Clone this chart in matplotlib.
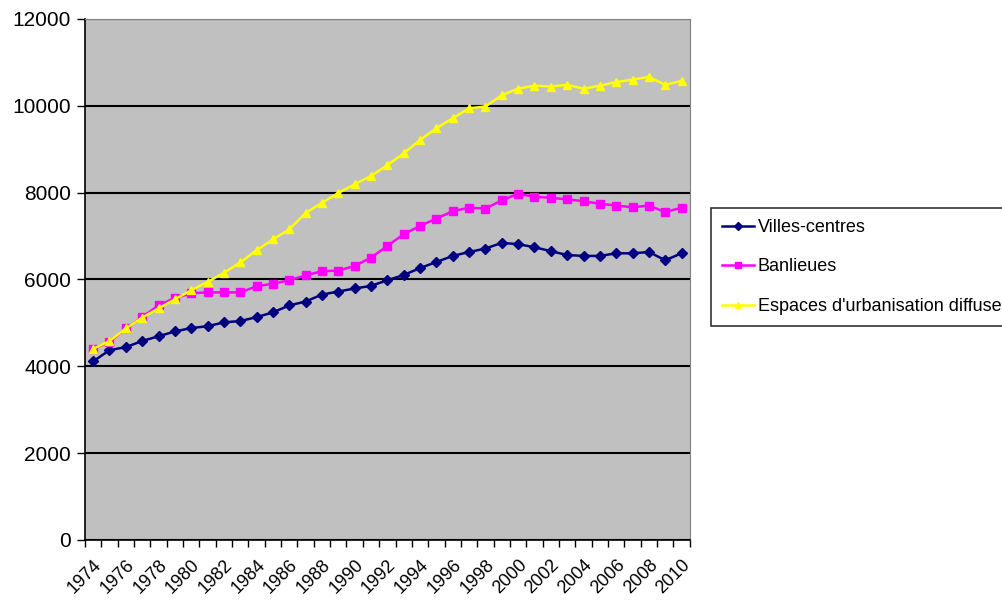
import numpy as np
import matplotlib.pyplot as plt

plt.rcParams['font.family'] = ['Liberation Sans', 'DejaVu Sans']

years = list(range(1974, 2011))

villes_centres = [4110, 4370, 4440, 4580, 4690, 4800, 4880, 4920, 5010, 5040,
                  5130, 5240, 5400, 5490, 5650, 5720, 5790, 5850, 5980, 6100,
                  6260, 6400, 6540, 6630, 6710, 6840, 6810, 6740, 6650, 6560,
                  6540, 6540, 6600, 6600, 6630, 6440, 6600]

banlieues = [4400, 4560, 4870, 5130, 5400, 5570, 5680, 5700, 5700, 5700,
             5840, 5900, 5980, 6090, 6190, 6200, 6310, 6500, 6770, 7040,
             7230, 7400, 7570, 7650, 7630, 7820, 7970, 7900, 7880, 7840,
             7800, 7740, 7700, 7660, 7700, 7550, 7650]

espaces_diffus = [4400, 4580, 4870, 5120, 5330, 5540, 5750, 5940, 6150, 6390,
                  6670, 6920, 7150, 7530, 7760, 7990, 8190, 8380, 8630, 8900,
                  9210, 9480, 9710, 9940, 9980, 10240, 10390, 10460, 10440, 10480,
                  10390, 10460, 10540, 10600, 10660, 10480, 10570]

fig = plt.figure(figsize=(10.03, 6.06), dpi=100)
ax = fig.add_axes([0.0847, 0.109, 0.603, 0.86])
ax.set_facecolor('#C0C0C0')

x = np.arange(len(years))
ax.plot(x, villes_centres, color='#000080', marker='D', markersize=5, lw=1.8,
        label='Villes-centres')
ax.plot(x, banlieues, color='#FF00FF', marker='s', markersize=5.5, lw=1.8,
        label='Banlieues')
ax.plot(x, espaces_diffus, color='#FFFF00', marker='^', markersize=6, lw=1.8,
        label="Espaces d'urbanisation diffuse")

ax.set_xlim(-0.5, len(years) - 0.5)
ax.set_ylim(0, 12000)
ax.set_yticks(range(0, 12001, 2000))
ax.yaxis.grid(True, color='black', lw=1.5)
ax.set_axisbelow(True)

# labels every two years, tick marks on category boundaries
ax.set_xticks(x[::2])
ax.set_xticklabels([str(y) for y in years[::2]], rotation=45, ha='right',
                   rotation_mode='anchor', fontsize=13)
ax.set_xticks(np.arange(-0.5, len(years)), minor=True)
ax.tick_params(axis='x', which='major', length=0, pad=12)
ax.tick_params(axis='x', which='minor', length=5, width=1, color='black')
ax.tick_params(axis='y', length=6, width=1, labelsize=15, color='black', pad=4)

for s in ['top', 'right']:
    ax.spines[s].set_color('#808080')
for s in ['left', 'bottom']:
    ax.spines[s].set_color('black')
    ax.spines[s].set_linewidth(1.2)

leg = fig.legend(loc='upper left', bbox_to_anchor=(711 / 1003, 1 - 208 / 606),
                 fontsize=13, frameon=True, fancybox=False, edgecolor='black',
                 handlelength=1.8, handletextpad=0.2, borderpad=0.6,
                 labelspacing=1.25, borderaxespad=0, markerscale=0.8)
leg.get_frame().set_linewidth(1.2)

fig.savefig('out.png', dpi=100)
